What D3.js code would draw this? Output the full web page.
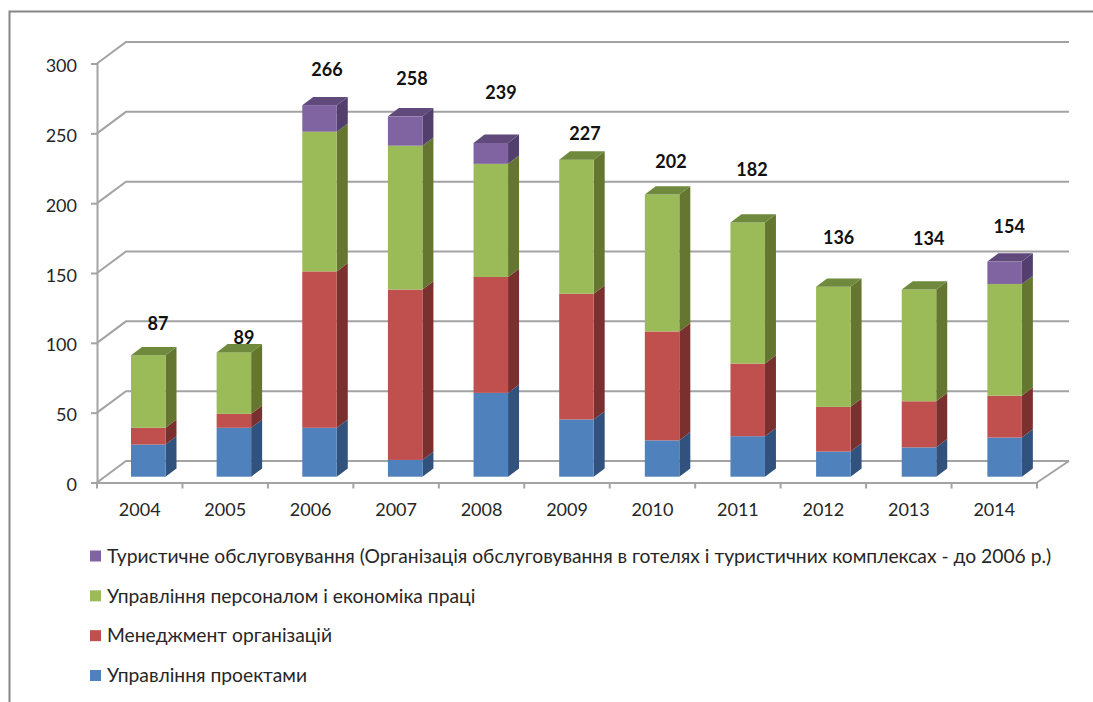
<!DOCTYPE html>
<html>
<head>
<meta charset="utf-8">
<script src="https://d3js.org/d3.v7.min.js"></script>
<style>
  html, body { margin: 0; padding: 0; background: #fff; overflow: hidden; }
  text { font-family: Lato, "Open Sans", sans-serif; }
</style>
</head>
<body>
<div id="chart"></div>
<script>
let height = 702,
    width = 1093;

const years = ["2004","2005","2006","2007","2008","2009","2010","2011","2012","2013","2014"];
const projects = [23, 35, 35, 12, 60, 41, 26, 29, 18, 21, 28];
const management = [12, 10, 112, 122, 83, 90, 78, 52, 32, 33, 30];
const personnel = [52, 44, 100, 103, 81, 96, 98, 101, 86, 80, 80];
const tourism = [0, 0, 19, 21, 15, 0, 0, 0, 0, 0, 16];
const totals = [87, 89, 266, 258, 239, 227, 202, 182, 136, 134, 154];
const yTicks = [0, 50, 100, 150, 200, 250, 300];

// the total labels were dragged by hand in the original, so they need nudging
const labelNudgeX = [9.75, 10, 7.5, 6.8, 10.2, 8.5, 8.9, 4.3, 5.3, 9.7, 4.6];
const labelNudgeY = [-31.5, -14.7, -35.5, -37.6, -50, -26, -33, -52.8, -49, -50.8, -35];

const seriesNames = ["Управління проектами", "Менеджмент організацій", "Управління персоналом і економіка праці",
    "Туристичне обслуговування (Організація обслуговування в готелях і туристичних комплексах - до 2006 р.)"];
const seriesValues = [projects, management, personnel, tourism];
const front = ["#4f81bd", "#c0504d", "#9bbb59", "#8064a2"];
const side = ["#30527c", "#7a302e", "#647630", "#523f6d"];
const top3d = ["#3f6797", "#9a3e3c", "#6f8a3c", "#604a7b"];

const wallLeft = 126, wallRight = 1069, wallDrop = -21.5;     // back wall position
const barDX = 11, barDY = -8.3;        // bar depth
const barLift = 5.8, barInset = 34, barW = 34.5;

const svg = d3.select("#chart")
    .append("svg")
    .attr("width", width)
    .attr("height", height)
    .attr("viewBox", [0, 0, width, height])
    .style("display", "block");

let x = d3.scaleBand()
    .domain(years)
    .range([97, 1037]);

// bars sit a bit further apart than the axis ticks because of the perspective
let xBar = d3.scaleBand()
    .domain(years)
    .range([97, 1039]);

let y = d3.scaleLinear()
    .domain([0, 300])
    .range([482.5, 63.5]);

// outer frame, runs off the right and bottom of the picture
svg.append("path")
    .attr("d", `M${width + 5},11.5H9.5V${height + 5}`)
    .attr("fill", "none")
    .attr("stroke", "#868686")
    .attr("stroke-width", 2);

// gridlines on the back wall plus the diagonal side wall
const grid = svg.append("g")
    .attr("fill", "none")
    .attr("stroke", "#a3a3a3")
    .attr("stroke-width", 2);

grid.selectAll("path")
    .data(yTicks)
    .join("path")
    .attr("d", d => `M${x.range()[0]},${y(d)}L${wallLeft},${y(d) + wallDrop}H${wallRight}`);

grid.append("path")
    .attr("d", `M${x.range()[1]},${y(0)}L${wallRight},${y(0) + wallDrop}`);

// axes
const yAxis = svg.append("g")
    .attr("transform", `translate(${x.range()[0]},0)`)
    .call(d3.axisLeft(y).tickValues(yTicks).tickSize(6).tickPadding(14));

const xAxis = svg.append("g")
    .attr("transform", `translate(0,${y(0)})`)
    .call(d3.axisBottom(x).tickSize(0).tickPadding(21));

xAxis.selectAll(".edge")
    .data(years.concat("end"))
    .join("line")
    .attr("class", "edge")
    .attr("x1", (d, i) => x.range()[0] + i * x.step())
    .attr("x2", (d, i) => x.range()[0] + i * x.step())
    .attr("y1", 0)
    .attr("y2", 6);

[yAxis, xAxis].forEach(a => {
    a.selectAll("path.domain, line").attr("stroke", "#a3a3a3").attr("stroke-width", 2);
    a.selectAll("text").attr("font-size", 18).attr("fill", "#262626");
});
yAxis.selectAll("text").attr("dy", "0.45em");

// bars, stacked bottom to top, each with a front and a side face
let stackY = v => y(v) - barLift;
const bars = svg.append("g");

years.forEach((year, i) => {
    let barX = xBar(year) + barInset;
    let base = 0;
    seriesValues.forEach((values, s) => {
        if (values[i] === 0) return;
        let y0 = stackY(base), y1 = stackY(base + values[i]);
        bars.append("polygon")
            .attr("fill", side[s])
            .attr("points", [[barX + barW, y0], [barX + barW + barDX, y0 + barDY], [barX + barW + barDX, y1 + barDY], [barX + barW, y1]].join(" "));
        bars.append("rect")
            .attr("x", barX)
            .attr("y", y1)
            .attr("width", barW)
            .attr("height", y0 - y1)
            .attr("fill", front[s]);
        base += values[i];
        if (base === totals[i]) {
            bars.append("polygon")
                .attr("fill", top3d[s])
                .attr("points", [[barX, y1], [barX + barDX, y1 + barDY], [barX + barW + barDX, y1 + barDY], [barX + barW, y1]].join(" "));
        }
    });
});

// totals
svg.append("g")
    .selectAll("text")
    .data(totals)
    .join("text")
    .attr("x", (d, i) => xBar(years[i]) + barInset + barW / 2 + labelNudgeX[i])
    .attr("y", (d, i) => stackY(d) + labelNudgeY[i])
    .attr("dy", "0.35em")
    .attr("text-anchor", "middle")
    .attr("font-size", 18)
    .attr("font-weight", "bold")
    .attr("fill", "#111")
    .text(d => d);

// legend, reversed like the stack
let legendY = d3.scalePoint()
    .domain([3, 2, 1, 0])
    .range([556, 675.5]);

const legend = svg.append("g")
    .selectAll("g")
    .data([3, 2, 1, 0])
    .join("g")
    .attr("transform", d => `translate(90,${legendY(d)})`);

legend.append("rect")
    .attr("y", -5.5)
    .attr("width", 11)
    .attr("height", 11)
    .attr("fill", d => front[d]);

legend.append("text")
    .attr("x", 17)
    .attr("dy", "0.35em")
    .attr("font-size", 19.25)
    .attr("fill", "#262626")
    .text(d => seriesNames[d]);
</script>
</body>
</html>
